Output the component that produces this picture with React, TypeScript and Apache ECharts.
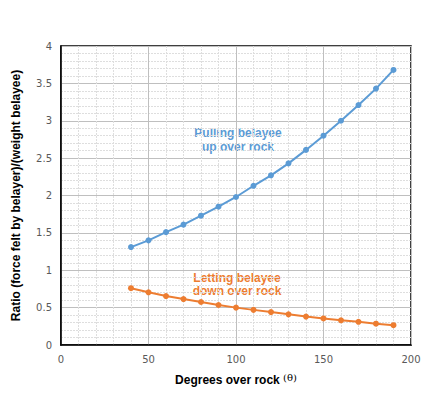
import React, { useEffect, useRef } from "react";
import * as echarts from "echarts";

const degrees = [40, 50, 60, 70, 80, 90, 100, 110, 120, 130, 140, 150, 160, 170, 180, 190];
const pulling = [1.31, 1.4, 1.51, 1.61, 1.73, 1.85, 1.98, 2.13, 2.27, 2.43, 2.61, 2.8, 3.0, 3.21, 3.43, 3.68];
const letting = [0.76, 0.705, 0.655, 0.615, 0.575, 0.535, 0.5, 0.47, 0.44, 0.41, 0.38, 0.355, 0.33, 0.31, 0.285, 0.265];

const BLUE = "#5B9BD5";
const ORANGE = "#ED7D31";

export default function App() {
  const ref = useRef<HTMLDivElement>(null);
  useEffect(() => {
    if (!ref.current) return;
    const chart = echarts.init(ref.current, null, { renderer: "svg" });
    const toPairs = (ys: number[]) => degrees.map((x, i) => [x, ys[i]]);
    chart.setOption({
      animation: false,
      backgroundColor: "#fff",
      grid: {
        left: 61,
        right: 14,
        top: 46,
        bottom: 55,
        show: true,
        borderColor: "#000",
        borderWidth: 1.5,
        backgroundColor: "transparent",
      },
      xAxis: {
        type: "value",
        min: 0,
        max: 200,
        interval: 50,
        axisLine: { show: true, lineStyle: { color: "#000", width: 1.5 } },
        axisTick: { show: false },
        axisLabel: { color: "#595959", fontSize: 10, fontFamily: "DejaVu Sans", margin: 9 },
        splitLine: { show: true, lineStyle: { color: "#bfbfbf", width: 1 } },
        minorTick: { show: false, splitNumber: 5 },
        minorSplitLine: { show: true, lineStyle: { color: "#dedede", width: 1, type: [2, 1] } },
        name: "{a|Degrees over rock }{t|(θ)}",
        nameLocation: "middle",
        nameGap: 27,
        nameTextStyle: {
          rich: {
            a: { fontFamily: "Liberation Sans", fontWeight: "bold", fontSize: 12, color: "#000" },
            t: { fontFamily: "DejaVu Serif", fontSize: 10, color: "#000", verticalAlign: "bottom", padding: [0, 0, 5, 0] },
          },
        },
      },
      yAxis: {
        type: "value",
        min: 0,
        max: 4,
        interval: 0.5,
        axisLine: { show: true, lineStyle: { color: "#000", width: 1.5 } },
        axisTick: { show: false },
        axisLabel: { color: "#595959", fontSize: 10, fontFamily: "DejaVu Sans", margin: 9 },
        splitLine: { show: true, lineStyle: { color: "#bfbfbf", width: 1 } },
        minorTick: { show: false, splitNumber: 5 },
        minorSplitLine: { show: true, lineStyle: { color: "#dedede", width: 1, type: [2, 1] } },
        name: "Ratio (force felt by belayer)/(weight belayee)",
        nameLocation: "middle",
        nameGap: 39,
        nameTextStyle: { fontFamily: "Liberation Sans", fontWeight: "bold", fontSize: 12, color: "#000" },
      },
      series: [
        {
          type: "line",
          data: toPairs(pulling),
          symbol: "circle",
          symbolSize: 6,
          itemStyle: { color: BLUE },
          lineStyle: { color: BLUE, width: 2 },
        },
        {
          type: "line",
          data: toPairs(letting),
          symbol: "circle",
          symbolSize: 6,
          itemStyle: { color: ORANGE },
          lineStyle: { color: ORANGE, width: 2 },
        },
      ],
      graphic: [
        {
          type: "text",
          x: 238,
          y: 140,
          style: {
            text: "Pulling belayee\nup over rock",
            fill: BLUE,
            font: "bold 12px 'Liberation Sans'",
            align: "center",
            verticalAlign: "middle",
            lineHeight: 14,
          },
        },
        {
          type: "text",
          x: 237,
          y: 284,
          style: {
            text: "Letting belayee\ndown over rock",
            fill: ORANGE,
            font: "bold 12px 'Liberation Sans'",
            align: "center",
            verticalAlign: "middle",
            lineHeight: 13,
          },
        },
      ],
    });
    return () => chart.dispose();
  }, []);
  return <div ref={ref} style={{ width: 425, height: 400, position: "absolute", left: 0, top: 0 }} />;
}
